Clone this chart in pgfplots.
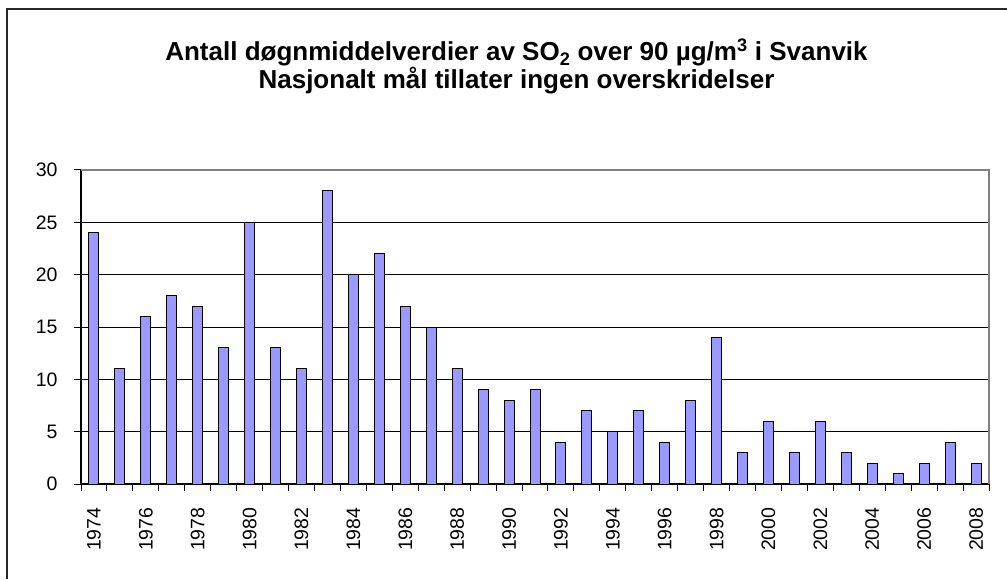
\documentclass[border=0pt]{standalone}
\usepackage{pgfplots}
\pgfplotsset{compat=1.18}
\usepackage{fontspec}
\setmainfont{Liberation Sans}
\definecolor{barfill}{HTML}{9999FF}
\begin{document}
\begin{tikzpicture}[x=1pt,y=1pt]
\useasboundingbox (0,0) rectangle (1007,579);
\draw[line width=1.5pt, black!85] (7,0) -- (7,570) -- (1007,570);
\node[anchor=base, font=\fontsize{26}{28}\selectfont\bfseries, inner sep=0pt] at (516.5,518)
  {Antall døgnmiddelverdier av SO\textsubscript{2} over 90 µg/m\textsuperscript{3} i Svanvik};
\node[anchor=base, font=\fontsize{26}{28}\selectfont\bfseries, inner sep=0pt] at (516.5,490)
  {Nasjonalt mål tillater ingen overskridelser};
\begin{axis}[
  at={(81pt,95pt)}, anchor=south west,
  scale only axis, width=908pt, height=314pt,
  xmin=-0.5, xmax=34.5, ymin=0, ymax=30,
  axis x line*=bottom, axis y line*=left,
  axis line style={black, line width=1.2pt},
  tick align=outside,
  major tick length=7pt,
  tick style={black, line width=1pt},
  ytick={0,5,...,30},
  yticklabel style={xshift=-13pt},
  ymajorgrids, grid style={black, line width=1pt},
  xtick={-0.5,0.5,...,34.5}, xticklabels={},
  extra x ticks={0,2,...,34},
  extra x tick labels={1974,1976,1978,1980,1982,1984,1986,1988,1990,1992,1994,1996,1998,2000,2002,2004,2006,2008},
  extra x tick style={major tick length=0pt, xticklabel style={rotate=90, anchor=east, xshift=-20pt}},
  ticklabel style={font=\fontsize{19.5}{22}\selectfont},
  /pgf/number format/assume math mode=true,
  ybar, bar width=10pt,
  clip=false,
]
\addplot[fill=barfill, draw=black, line width=1pt] coordinates {
(0,24) (1,11) (2,16) (3,18) (4,17) (5,13) (6,25) (7,13) (8,11) (9,28)
(10,20) (11,22) (12,17) (13,15) (14,11) (15,9) (16,8) (17,9) (18,4) (19,7)
(20,5) (21,7) (22,4) (23,8) (24,14) (25,3) (26,6) (27,3) (28,6) (29,3)
(30,2) (31,1) (32,2) (33,4) (34,2)};
\draw[gray, line width=1.2pt] (rel axis cs:0,1) -- (rel axis cs:1,1) -- (rel axis cs:1,0);
\end{axis}
\end{tikzpicture}
\end{document}
